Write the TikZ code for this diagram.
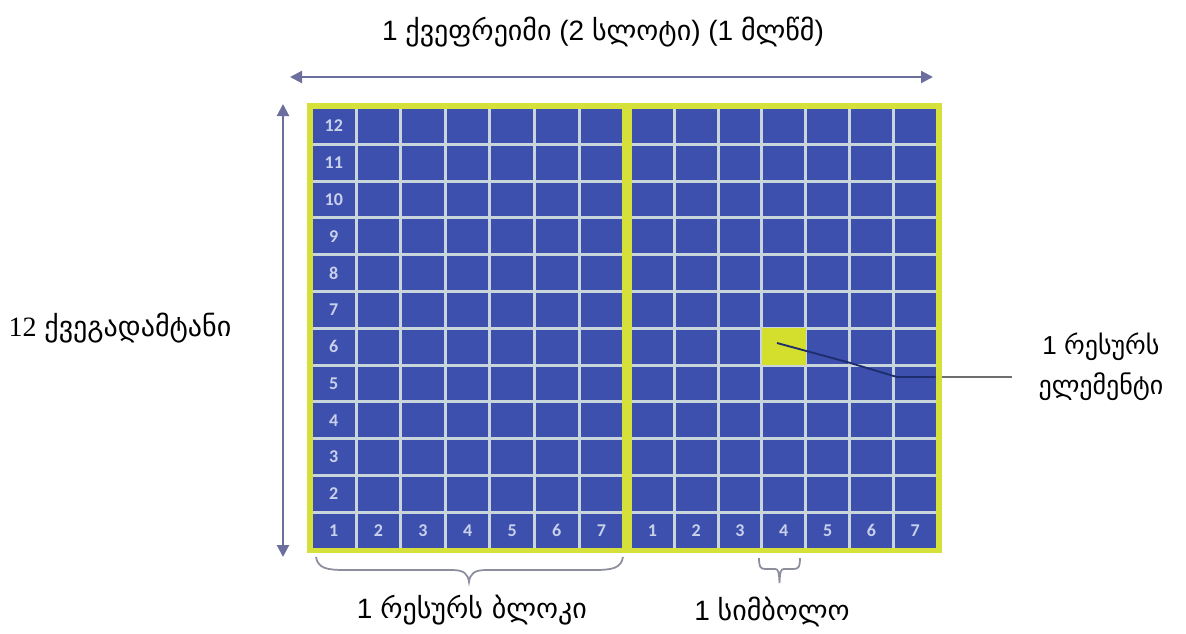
\documentclass[tikz,border=0pt]{standalone}
\usepackage{fontspec}
\setmainfont{Liberation Sans}
\newfontfamily\geo{DejaVu Sans}
\newfontfamily\serifdig{Liberation Serif}
\newfontfamily\cellfont{Carlito}
\usetikzlibrary{arrows.meta}

\definecolor{cellblue}{HTML}{3E50AE}
\definecolor{gridline}{HTML}{C8D5DA}
\definecolor{frameyel}{HTML}{D5E03A}
\definecolor{hlyel}{HTML}{D4DE2C}
\definecolor{arrowgray}{HTML}{6C6F9E}
\definecolor{bracegray}{HTML}{8C8E9C}
\definecolor{leaderblue}{HTML}{1E2D6E}
\definecolor{leadergray}{HTML}{6E6E6E}
\definecolor{numcol}{HTML}{C9D1EA}

\begin{document}
\begin{tikzpicture}[x=0.75pt,y=-0.75pt,
  cellnum/.style={text=numcol,font=\cellfont\bfseries\fontsize{13.5}{15}\selectfont,inner sep=0pt},
  dimarrow/.style={draw=arrowgray,line width=1.6pt,{Triangle[length=9pt,width=9pt]}-{Triangle[length=9pt,width=9pt]}},
  bracepath/.style={draw=bracegray,line width=1.3pt},
  lbl/.style={text=black,inner sep=0pt,font=\fontsize{21}{24}\selectfont}]
\useasboundingbox (0,0) rectangle (1186,633);
\fill[white] (0,0) rectangle (1186,633);

% frame and grid
\fill[frameyel] (307,103) rectangle (942,553);
\fill[gridline] (313,109) rectangle (935.6,547.6);
\fill[frameyel] (622.2,109) rectangle (632,547.6);
\foreach \k in {0,...,11}{
  \foreach \i in {0,...,6}{
    \fill[cellblue] ({313+\i*44.6},{109+\k*36.8}) rectangle ++(41.6,33.8);
    \fill[cellblue] ({632+\i*43.8},{109+\k*36.8}) rectangle ++(40.8,33.8);
  }
}
% row numbers
\foreach \r in {1,...,12}{
  \node[cellnum] (row-\r) at (333.8,{109+(12-\r)*36.8+16.9}) {\r};
}
% bottom row symbol numbers
\foreach \c in {2,...,7}{
  \node[cellnum] (sa-\c) at ({313+(\c-1)*44.6+20.8},{513.8+16.9}) {\c};
}
\foreach \c in {1,...,7}{
  \node[cellnum] (sb-\c) at ({632+(\c-1)*43.8+20.4},{513.8+16.9}) {\c};
}

% highlighted resource element
\node[fill=hlyel,minimum width=33pt,minimum height=27.75pt,inner sep=0pt] (hl) at (784,346.5) {};

% leader line
\coordinate (lstart) at (777,343);
\coordinate (lb1) at (847,362);
\coordinate (lb2) at (897,377);
\coordinate (lexit) at (935.6,377);
\coordinate (lout) at (942,377);
\coordinate (lend) at (1012,377);
\draw[leaderblue,line width=1.4pt] (lstart) -- (lb1) -- (lb2) -- (lexit);
\draw[leadergray,line width=1.4pt] (lout) -- (lend);

% dimension arrows
\coordinate (hL) at (290,77);
\coordinate (hR) at (933,77);
\draw[dimarrow] (hL) -- (hR);
\coordinate (vT) at (283,104);
\coordinate (vB) at (283,557);
\draw[dimarrow] (vT) -- (vB);

% braces
\coordinate (bL) at (316,557);
\coordinate (bR) at (623,557);
\draw[bracepath] (bL) .. controls (318,568) and (326,570) .. (345,570) -- (452,570)
  .. controls (464,570) and (468,574) .. (469,582)
  .. controls (470,574) and (474,570) .. (486,570) -- (594,570)
  .. controls (613,570) and (621,568) .. (bR);
\coordinate (sL) at (759,558);
\coordinate (sR) at (800,558);
\draw[bracepath] (sL) .. controls (759,566) and (760,569) .. (765,569) -- (775,569)
  .. controls (778,569) and (779,571) .. (779.5,583)
  .. controls (780,571) and (781,569) .. (784,569) -- (794,569)
  .. controls (799,569) and (800,566) .. (sR);

% labels
\node[lbl] (title) at (603,32) {1 {\geo ქვეფრეიმი} (2 {\geo სლოტი}) (1 {\geo მლწმ})};
\node[lbl] (subc) at (120,328) {{\serifdig 12} {\geo ქვეგადამტანი}};
\node[lbl,align=center,font=\fontsize{19.5}{22}\selectfont] (re) at (1101,367) {1 {\geo რესურს}\\[8pt]{\geo ელემენტი}};
\node[lbl] (rb) at (472,610) {1 {\geo რესურს ბლოკი}};
\node[lbl] (sym) at (772,612) {1 {\geo სიმბოლო}};
\end{tikzpicture}
\end{document}
